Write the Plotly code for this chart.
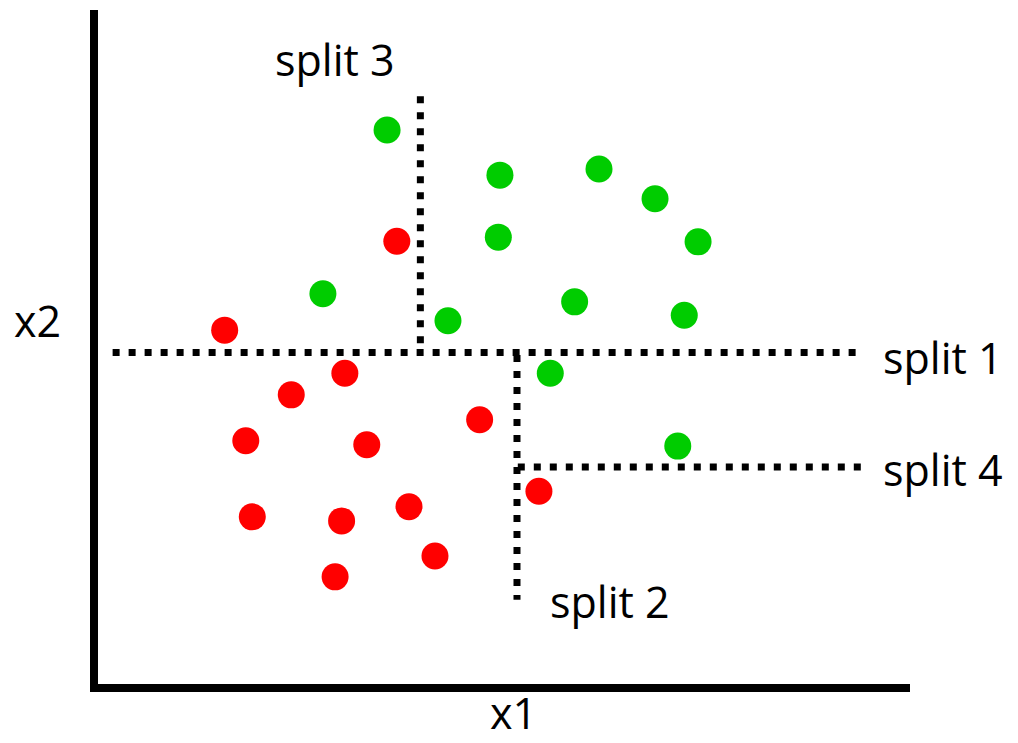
import plotly.graph_objects as go

# Data (x1, x2 in axis units 0-10)
green_x1 = [3.56, 4.95, 6.17, 6.86, 7.39, 4.93, 2.77, 5.87, 7.22, 4.31, 5.57, 7.14]
green_x2 = [8.22, 7.55, 7.64, 7.20, 6.56, 6.63, 5.79, 5.67, 5.47, 5.39, 4.61, 3.53]
red_x1 = [3.68, 1.56, 3.04, 2.38, 4.70, 1.82, 3.31, 1.90, 3.00, 3.83, 5.43, 4.15, 2.92]
red_x2 = [6.57, 5.25, 4.61, 4.29, 3.92, 3.61, 3.55, 2.48, 2.42, 2.63, 2.86, 1.90, 1.59]

# Split lines: name, x-endpoints, y-endpoints
split_names = ["split 1", "split 2", "split 3", "split 4"]
split_x = [[0.18, 9.36], [5.16, 5.16], [3.97, 3.97], [5.17, 9.41]]
split_y = [[4.92, 4.92], [4.88, 1.25], [8.72, 4.93], [3.22, 3.22]]

# Label positions (axis units)
label_text = ["split 1", "split 2", "split 3", "split 4", "x2", "x1"]
label_x = [10.41, 6.31, 2.92, 10.41, -0.74, 5.12]
label_y = [4.85, 1.22, 9.26, 3.18, 5.40, -0.42]

X_RANGE = [0, 10]
Y_RANGE = [0, 10]

fig = go.Figure()

for name, xs, ys in zip(split_names, split_x, split_y):
    fig.add_trace(go.Scatter(
        x=xs, y=ys, mode="lines", name=name,
        line=dict(color="black", width=7, dash="7px,9px"),
        hoverinfo="skip"))

fig.add_trace(go.Scatter(
    x=green_x1, y=green_x2, mode="markers", name="green",
    marker=dict(color="#00CC00", size=27, line=dict(width=0))))
fig.add_trace(go.Scatter(
    x=red_x1, y=red_x2, mode="markers", name="red",
    marker=dict(color="#FF0000", size=27, line=dict(width=0))))

for t, x, y in zip(label_text, label_x, label_y):
    fig.add_annotation(
        x=(x - X_RANGE[0]) / (X_RANGE[1] - X_RANGE[0]),
        y=(y - Y_RANGE[0]) / (Y_RANGE[1] - Y_RANGE[0]),
        xref="paper", yref="paper", text=t, showarrow=False,
        xanchor="center", yanchor="middle",
        font=dict(family="Open Sans", size=43, color="black"))

fig.update_layout(
    width=1010, height=735,
    margin=dict(l=90, r=108, t=2, b=59),
    paper_bgcolor="white", plot_bgcolor="white",
    showlegend=False,
    xaxis=dict(range=X_RANGE, showline=True, linewidth=8, linecolor="black",
               showgrid=False, zeroline=False, showticklabels=False, ticks=""),
    yaxis=dict(range=Y_RANGE, showline=True, linewidth=8, linecolor="black",
               showgrid=False, zeroline=False, showticklabels=False, ticks=""),
)

fig.write_html("out.html")
